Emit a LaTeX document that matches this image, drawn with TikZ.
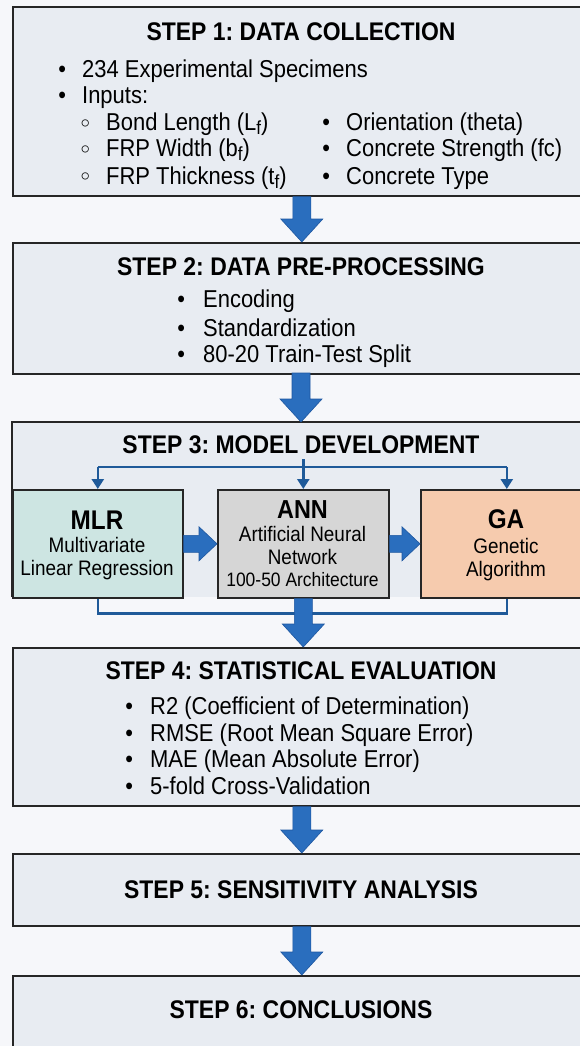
\documentclass[tikz,border=0pt]{standalone}
\usepackage{fontspec}
\setmainfont{Liberation Sans}[FakeStretch=0.9]
\newfontfamily\dejavu{DejaVu Sans}
\usetikzlibrary{arrows.meta,calc}
\frenchspacing
\definecolor{pagebg}{HTML}{F6F7FA}
\definecolor{boxfill}{HTML}{E8ECF2}
\definecolor{boxline}{HTML}{262626}
\definecolor{bigblue}{HTML}{2A6EBE}
\definecolor{bigedge}{HTML}{1E57A0}
\definecolor{connblue}{HTML}{1F5A99}
\definecolor{mlrfill}{HTML}{CDE5E2}
\definecolor{annfill}{HTML}{D6D6D6}
\definecolor{gafill}{HTML}{F6CBAE}
\newcommand\subf{\raisebox{-4pt}{\fontsize{19}{19}\selectfont f}}
\newcommand\itm[3]{\makebox[#1pt][c]{#2}#3}
\newcommand\bigdown[2]{%
  \filldraw[bigarrow] ($(#1.south)+(-9,0)$) -- ($(#1.south |- #2.north)+(-9,-23)$)
    -- ($(#1.south |- #2.north)+(-21,-23)$) -- (#1.south |- #2.north)
    -- ($(#1.south |- #2.north)+(21,-23)$) -- ($(#1.south |- #2.north)+(9,-23)$)
    -- ($(#1.south)+(9,0)$) -- cycle;}
\newcommand\bigright[2]{%
  \filldraw[bigarrow] ($(#1.east)+(0,-8.5)$) -- ($(#2.west |- #1.east)+(-18,-8.5)$)
    -- ($(#2.west |- #1.east)+(-18,-17)$) -- (#2.west |- #1.east)
    -- ($(#2.west |- #1.east)+(-18,17)$) -- ($(#2.west |- #1.east)+(-18,8.5)$)
    -- ($(#1.east)+(0,8.5)$) -- cycle;}
\begin{document}
\begin{tikzpicture}[x=1pt,y=-1pt,
  stepbox/.style={draw=boxline,line width=1.6pt,fill=boxfill,anchor=north west,inner sep=0pt},
  subbox/.style={draw=boxline,line width=1.6pt,anchor=north west,inner sep=0pt,minimum height=108pt},
  ttl/.style={font=\fontsize{25.5}{29}\selectfont\bfseries,text=black,inner sep=0pt},
  item/.style={font=\fontsize{24.4}{28}\selectfont,anchor=base west,inner sep=0pt,text=black},
  subttl/.style={font=\fontsize{27}{30}\selectfont\bfseries,anchor=base,inner sep=0pt},
  subtxt/.style={font=\fontsize{21}{25}\selectfont,anchor=base,inner sep=0pt},
  bigarrow/.style={fill=bigblue,draw=bigedge,line width=0.6pt,line join=miter},
  conn/.style={draw=connblue,line width=2.5pt},
  conntip/.style={-{Triangle[width=12pt,length=10pt]}}]
\useasboundingbox (0,0) rectangle (580,1046);
\clip (0,0) rectangle (580,1046);
\fill[pagebg] (0,0) rectangle (580,1046);

% step boxes
\node[stepbox,minimum width=578pt,minimum height=189pt] (s1) at (12,6) {};
\node[stepbox,minimum width=578pt,minimum height=131pt] (s2) at (12,242) {};
\fill[boxfill] (12,422) rectangle (590,597);
\draw[boxline,line width=1.6pt] (12,597) -- (12,422) -- (590,422) -- (590,597);
\coordinate (s3) at (301,422);
\node[stepbox,minimum width=578pt,minimum height=158pt] (s4) at (12,647) {};
\node[stepbox,minimum width=578pt,minimum height=72pt] (s5) at (12,853) {};
\node[stepbox,minimum width=578pt,minimum height=72pt] (s6) at (12,975) {};

% step 1
\node[ttl] (t1) at (301,32) {STEP 1: DATA COLLECTION};
\node[item] (a1) at (42,78) {\itm{40}{•}{234 Experimental Specimens}};
\node[item] (a2) at (42,104) {\itm{40}{•}{Inputs:}};
\node[item] (a3) at (64,131) {\itm{42}{\raisebox{-1.5pt}{\dejavu ◦}}{Bond Length (L\subf)}};
\node[item] (a4) at (64,157) {\itm{42}{\raisebox{-1.5pt}{\dejavu ◦}}{FRP Width (b\subf)}};
\node[item] (a5) at (64,184) {\itm{42}{\raisebox{-1.5pt}{\dejavu ◦}}{FRP Thickness (t\subf)}};
\node[item] (a6) at (306,131) {\itm{40}{•}{Orientation (theta)}};
\node[item] (a7) at (306,157) {\itm{40}{•}{Concrete Strength (fc)}};
\node[item] (a8) at (306,184) {\itm{40}{•}{Concrete Type}};

% step 2
\node[ttl] (t2) at (301,267) {STEP 2: DATA PRE-PROCESSING};
\node[item] (b1) at (159,307) {\itm{44}{•}{Encoding}};
\node[item] (b2) at (159,336) {\itm{44}{•}{Standardization}};
\node[item] (b3) at (159,362) {\itm{44}{•}{80-20 Train-Test Split}};

% step 3
\node[ttl] (t3) at (301,445) {STEP 3: MODEL DEVELOPMENT};
\node[subbox,fill=mlrfill,minimum width=170pt] (mlr) at (12,489) {};
\node[subbox,fill=annfill,minimum width=171pt] (ann) at (217,489) {};
\node[subbox,fill=gafill,minimum width=172pt] (ga) at (420,489) {};
\node[subttl] (mlrT) at (97,529.5) {MLR};
\node[subtxt] (mlr1) at (97,552.5) {Multivariate};
\node[subtxt] (mlr2) at (97,575.5) {Linear Regression};
\node[subttl,font=\fontsize{26}{29}\selectfont\bfseries] (annT) at (302.5,518.5) {ANN};
\node[subtxt] (ann1) at (302.5,541.5) {Artificial Neural};
\node[subtxt] (ann2) at (302.5,564.5) {Network};
\node[subtxt,font=\fontsize{19.4}{23}\selectfont] (ann3) at (302.5,586.5) {100-50 Architecture};
\node[subttl] (gaT) at (506,528) {GA};
\node[subtxt] (ga1) at (506,553.5) {Genetic};
\node[subtxt] (ga2) at (506,576.5) {Algorithm};

\coordinate (hb) at (302,467);
\draw[conn] (hb -| mlr.north) -- (hb -| ga.north);
\draw[conn,conntip] (t3.south -| ann.north) ++(0,5) -- (ann.north);
\draw[conn,conntip] (hb -| mlr.north) -- (mlr.north);
\draw[conn,conntip] (hb -| ga.north) -- (ga.north);
\draw[conn] (mlr.south) -- ++(0,15) -| (ga.south);
\bigright{mlr}{ann}
\bigright{ann}{ga}

% step 4
\node[ttl] (t4) at (301,671) {STEP 4: STATISTICAL EVALUATION};
\node[item] (d1) at (108,714) {\itm{42}{•}{R2 (Coefficient of Determination)}};
\node[item] (d2) at (108,741) {\itm{42}{•}{RMSE (Root Mean Square Error)}};
\node[item] (d3) at (108,767) {\itm{42}{•}{MAE (Mean Absolute Error)}};
\node[item] (d4) at (108,794) {\itm{42}{•}{5-fold Cross-Validation}};

% step 5, 6
\node[ttl] (t5) at (301,890) {STEP 5: SENSITIVITY ANALYSIS};
\node[ttl] (t6) at (301,1010) {STEP 6: CONCLUSIONS};

% big arrows
\bigdown{s1}{s2}
\filldraw[bigarrow] (292,373) -- (292,399) -- (280,399) -- (s3) -- (322,399) -- (310,399) -- (310,373) -- cycle;
\bigdown{ann}{s4}
\bigdown{s4}{s5}
\bigdown{s5}{s6}
\end{tikzpicture}
\end{document}
